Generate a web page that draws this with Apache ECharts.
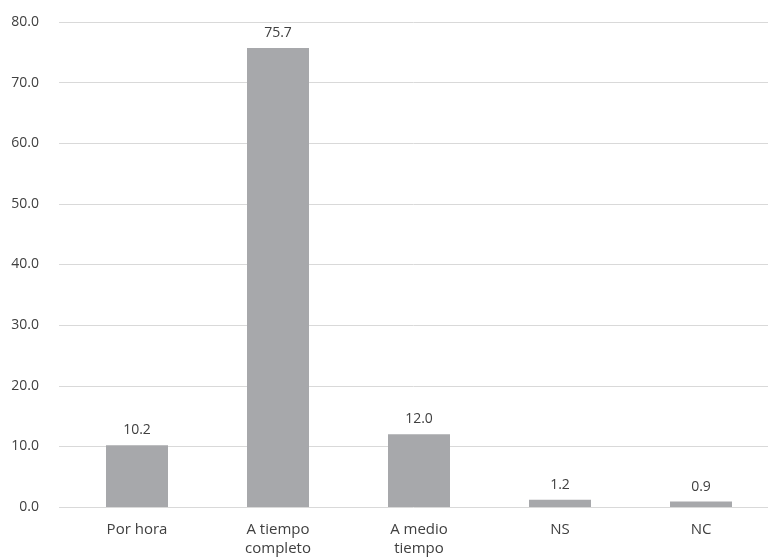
<!DOCTYPE html>
<html><head><meta charset="utf-8">
<script src="https://cdn.jsdelivr.net/npm/echarts@6/dist/echarts.min.js"></script>
<style>html,body{margin:0;padding:0;background:#fff}#c{width:768px;height:558px}</style>
</head><body><div id="c"></div>
<script>
const categories = ["Por hora", "A tiempo\ncompleto", "A medio\ntiempo", "NS", "NC"];
const values = [10.2, 75.7, 12.0, 1.2, 0.9];
const yTicks = [0, 10, 20, 30, 40, 50, 60, 70, 80];

const font = "'Open Sans', sans-serif";
const chart = echarts.init(document.getElementById('c'));
chart.setOption({
  animation: false,
  grid: [
    {left: 59, right: 0, top: 22, bottom: 51, outerBoundsMode: 'none', containLabel: false},
    {left: 66.5, width: 705, top: 22, bottom: 51, outerBoundsMode: 'none', containLabel: false}
  ],
  xAxis: [
    {gridIndex: 0, type: 'value', show: false, min: 0, max: 1},
    {gridIndex: 1, type: 'category', data: categories,
     axisLine: {show: false}, axisTick: {show: false},
     axisLabel: {color: '#404040', fontSize: 15, fontFamily: font, margin: 13, lineHeight: 19, interval: 0}}
  ],
  yAxis: [
    {gridIndex: 0, type: 'value', min: yTicks[0], max: yTicks[yTicks.length-1], interval: 10,
     axisLine: {show: false}, axisTick: {show: false},
     splitLine: {lineStyle: {color: '#d9d9d9', width: 1}},
     axisLabel: {color: '#404040', fontSize: 14, fontFamily: font, margin: 20, formatter: v => v.toFixed(1)}},
    {gridIndex: 1, type: 'value', min: 0, max: 80, show: false, splitLine: {show: false}}
  ],
  series: [{
    type: 'bar', xAxisIndex: 1, yAxisIndex: 1, data: values, barWidth: 62,
    itemStyle: {color: '#a7a8ab'},
    label: {show: true, position: 'top', distance: 8, color: '#404040', fontSize: 14, fontFamily: font,
            formatter: p => p.value.toFixed(1)}
  }]
});
</script></body></html>
